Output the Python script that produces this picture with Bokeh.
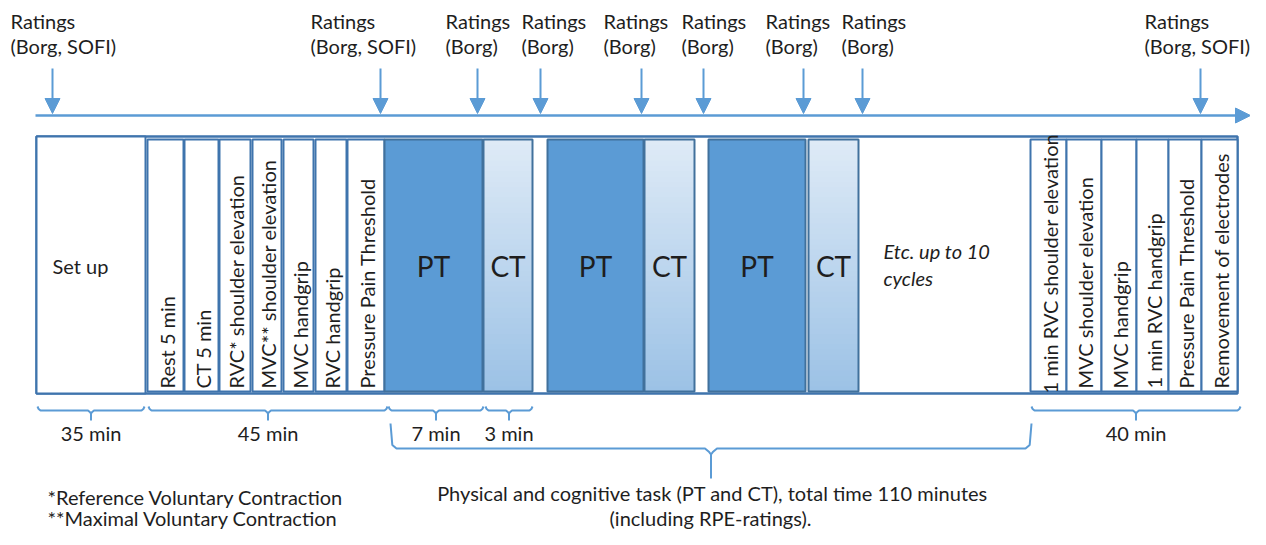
import numpy as np
from bokeh.plotting import figure
from bokeh.models import Range1d
from bokeh.core.properties import value
from bokeh.embed import file_html
from bokeh.resources import INLINE

# ---------------- data (diagram units) ----------------
box_labels = ["Set up", "Rest 5 min", "CT 5 min", "RVC* shoulder elevation",
              "MVC** shoulder elevation", "MVC handgrip", "RVC handgrip",
              "Pressure Pain Threshold", "PT", "CT", "", "PT", "CT", "", "PT", "CT", "",
              "1 min RVC shoulder elevation", "MVC shoulder elevation", "MVC  handgrip",
              "1 min RVC handgrip", "Pressure Pain Threshold", "Removement of electrodes"]
box_kind = ["setup", "v", "v", "v", "v", "v", "v", "v", "pt", "ct", "gap", "pt", "ct", "gap",
            "pt", "ct", "etc", "v", "v", "v", "v", "v", "v"]
box_start = [36, 147, 184, 219, 252, 283, 315, 347, 384, 483, 532, 547, 644, 694, 708, 808,
             858, 1030, 1066, 1101, 1136, 1168, 1201]
box_end = [145, 183, 218, 250, 281, 313, 346, 384, 482, 532, 547, 643, 694, 708, 805, 858,
           1030, 1066, 1101, 1136, 1168, 1201, 1237]
etc_lines = ["Etc. up to 10", "cycles"]

rating_at = [52, 380, 477, 540, 641, 703, 803, 862, 1200]
rating_label_left = [10, 310, 445, 521, 603, 681, 765, 841, 1144]
rating_line1 = ["Ratings"] * 9
rating_line2 = ["(Borg, SOFI)", "(Borg, SOFI)", "(Borg)", "(Borg)", "(Borg)", "(Borg)",
                "(Borg)", "(Borg)", "(Borg, SOFI)"]

brace_labels = ["35 min", "45 min", "7 min", "3 min", "40 min"]
brace_start = [37, 148, 388, 485, 1031]
brace_end = [144, 387, 483, 532, 1240]
big_brace_start, big_brace_end = 390, 1031
big_brace_text = ["Physical and cognitive task (PT and CT), total time 110 minutes",
                  "(including RPE-ratings)."]
footnotes = ["*Reference Voluntary Contraction", "**Maximal Voluntary Contraction"]

# ---------------- styles ----------------
W, H = 1250, 529
def Y(v):
    return H - np.asarray(v, dtype=float)

BLUE = "#5b9bd5"
DARK = "#41719c"
FRAME = "#3f74ad"
TXT = "#1e1e1e"
FONT = value("Lato")

p = figure(width=W, height=H, output_backend="svg", toolbar_location=None,
           x_range=Range1d(0, W), y_range=Range1d(0, H), min_border=0)
p.axis.visible = False
p.grid.visible = False
p.outline_line_color = None
p.background_fill_color = "white"

# timeline arrow
p.line([35, 1240], [Y(115), Y(115)], line_color=BLUE, line_width=2.5)
p.patch([1235, 1250, 1235], list(Y([107.5, 115, 122.5])), fill_color=BLUE, line_color=BLUE)

# rating arrows
ra = np.array(rating_at, dtype=float)
p.segment(x0=ra, y0=Y(np.full(len(ra), 68.0)), x1=ra, y1=Y(np.full(len(ra), 100.0)),
          line_color=BLUE, line_width=2)
p.patches(xs=[[x - 7.5, x + 7.5, x] for x in ra],
          ys=[list(Y([98, 98, 113])) for _ in ra], fill_color=BLUE, line_color=BLUE)
p.text(x=rating_label_left, y=Y(np.full(len(ra), 20.0)), text=rating_line1,
       text_font=FONT, text_font_size="20px", text_color=TXT,
       text_align="left", text_baseline="middle")
p.text(x=rating_label_left, y=Y(np.full(len(ra), 45.0)), text=rating_line2,
       text_font=FONT, text_font_size="20px", text_color=TXT,
       text_align="left", text_baseline="middle")

# outer frame
p.quad(left=36, right=1237, top=Y(136), bottom=Y(393), fill_color="white",
       line_color=FRAME, line_width=2.5)

top_in, bot_in = 139, 391
for lab, kind, x0, x1 in zip(box_labels, box_kind, box_start, box_end):
    if kind == "pt":
        p.quad(left=x0, right=x1, top=Y(top_in), bottom=Y(bot_in), fill_color=BLUE,
               line_color=DARK, line_width=2)
    elif kind == "ct":
        n = 48
        edges = np.linspace(top_in, bot_in, n + 1)
        c0 = np.array([0xdf, 0xeb, 0xf7])
        c1 = np.array([0x9c, 0xc2, 0xe6])
        cols = []
        for i in range(n):
            t = (i + 0.5) / n
            c = (c0 * (1 - t) + c1 * t).astype(int)
            cols.append("#%02x%02x%02x" % tuple(c))
        bottoms = np.minimum(edges[1:] + 1.5, bot_in)
        p.quad(left=[x0] * n, right=[x1] * n, top=Y(edges[:-1]), bottom=Y(bottoms),
               fill_color=cols, line_color=None)
        p.quad(left=x0, right=x1, top=Y(top_in), bottom=Y(bot_in), fill_color=None,
               line_color=DARK, line_width=2)
    elif kind in ("v", "setup"):
        p.quad(left=x0, right=x1, top=Y(top_in if kind == "v" else 136),
               bottom=Y(bot_in if kind == "v" else 393), fill_color="white",
               line_color=FRAME, line_width=2)

# labels inside boxes
for lab, kind, x0, x1 in zip(box_labels, box_kind, box_start, box_end):
    xc = (x0 + x1) / 2
    if kind == "v":
        base = 393 if len(lab) > 25 else 388
        p.text(x=[xc + 1], y=[Y(base)], text=[lab], angle=np.pi / 2, text_font=FONT,
               text_font_size="20px", text_color=TXT, text_align="left",
               text_baseline="middle")
    elif kind in ("pt", "ct"):
        p.text(x=[xc], y=[Y(265)], text=[lab], text_font=FONT, text_font_size="28px",
               text_color=TXT, text_align="center", text_baseline="middle")
    elif kind == "setup":
        p.text(x=[52], y=[Y(265)], text=[lab], text_font=FONT, text_font_size="20px",
               text_color=TXT, text_align="left", text_baseline="middle")
    elif kind == "etc":
        p.text(x=[x0 + 25] * 2, y=Y([250, 277]), text=etc_lines, text_font=FONT,
               text_font_size="20px", text_font_style="italic", text_color=TXT,
               text_align="left", text_baseline="middle")

# braces
def brace(x0, x1, ye, yh, yt, r):
    xc = (x0 + x1) / 2
    xs = [x0, x0 + r * 0.3, x0 + r, xc - r, xc - r * 0.3, xc, xc,
          xc, xc + r * 0.3, xc + r, x1 - r, x1 - r * 0.3, x1]
    ys = [ye, yh - r * 0.6, yh, yh, yh + r * 0.6, yh + r, yt,
          yh + r, yh + r * 0.6, yh, yh, yh - r * 0.6, ye]
    return xs, list(Y(ys))

bx, by = [], []
for s, e in zip(brace_start, brace_end):
    xs, ys = brace(s, e, 406, 410, 420, 3)
    bx.append(xs)
    by.append(ys)
xs, ys = brace(big_brace_start, big_brace_end, 423, 448, 478, 6)
bx.append(xs)
by.append(ys)
p.multi_line(xs=bx, ys=by, line_color=BLUE, line_width=2)

bc = [(s + e) / 2 for s, e in zip(brace_start, brace_end)]
p.text(x=bc, y=Y(np.full(len(bc), 432.0)), text=brace_labels, text_font=FONT,
       text_font_size="20px", text_color=TXT, text_align="center", text_baseline="middle")
p.text(x=[712, 710], y=Y([492, 517]), text=big_brace_text, text_font=FONT,
       text_font_size="20px", text_color=TXT, text_align="center", text_baseline="middle")
p.text(x=[47, 47], y=Y([496, 517]), text=footnotes, text_font=FONT,
       text_font_size="20px", text_color=TXT, text_align="left", text_baseline="middle")

open("out.html", "w").write(file_html(p, INLINE))
